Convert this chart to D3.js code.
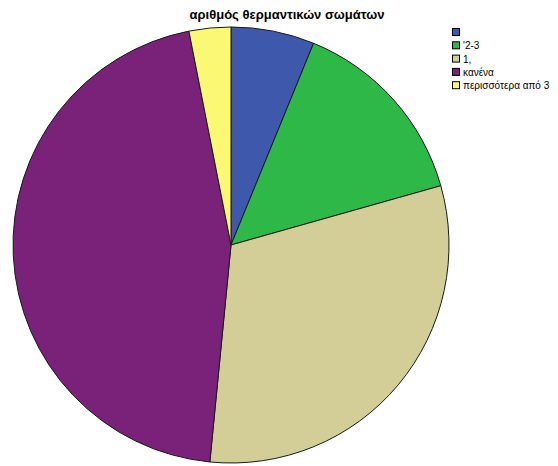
<!DOCTYPE html>
<html>
<head>
<meta charset="utf-8">
<script src="https://cdn.jsdelivr.net/npm/d3@7"></script>
<style>
  body { margin: 0; background: #fff; }
  svg { display: block; font-family: "Liberation Sans", Arial, sans-serif; }
</style>
</head>
<body>
<svg id="chart" width="558" height="466"></svg>
<script>
  var title = 'αριθμός θερμαντικών σωμάτων';
  var categories = ['', '\'2-3', '1,', 'κανένα', 'περισσότερα από 3'];
  var counts = [6, 14, 30, 44, 3];
  var colors = ['#3e58ac', '#2eb848', '#d3ce97', '#7a2279', '#fbf873'];

  var svg = d3.select('#chart');
  var cx = 231, cy = 245, radius = 218;

  svg.append('text')
      .attr('x', 287)
      .attr('y', 19)
      .attr('text-anchor', 'middle')
      .style('font-weight', 'bold')
      .style('font-size', '13px')
      .text(title);

  var pie = d3.pie().sort(null).value(function(d) { return d; });
  var arc = d3.arc().innerRadius(0).outerRadius(radius);

  var color = d3.scaleOrdinal().domain(d3.range(categories.length)).range(colors);

  var g = svg.append('g')
      .attr('transform', 'translate(' + cx + ',' + cy + ')');

  g.selectAll('path')
      .data(pie(counts))
    .enter().append('path')
      .attr('d', arc)
      .attr('fill', function(d, i) { return color(i); })
      .attr('stroke', '#1a1a1a')
      .attr('stroke-width', 1);

  var legend = svg.append('g')
      .attr('transform', 'translate(452,28)');

  var item = legend.selectAll('.item')
      .data(categories)
    .enter().append('g')
      .attr('class', 'item')
      .attr('transform', function(d, i) { return 'translate(0,' + (i * 13.3) + ')'; });

  item.append('rect')
      .attr('x', 0.5)
      .attr('y', 0.5)
      .attr('width', 7)
      .attr('height', 7)
      .attr('fill', function(d, i) { return color(i); })
      .attr('stroke', '#000')
      .attr('stroke-width', 1);

  item.append('text')
      .attr('x', 11)
      .attr('y', 8)
      .style('font-size', '10px')
      .text(function(d) { return d; });
</script>
</body>
</html>
